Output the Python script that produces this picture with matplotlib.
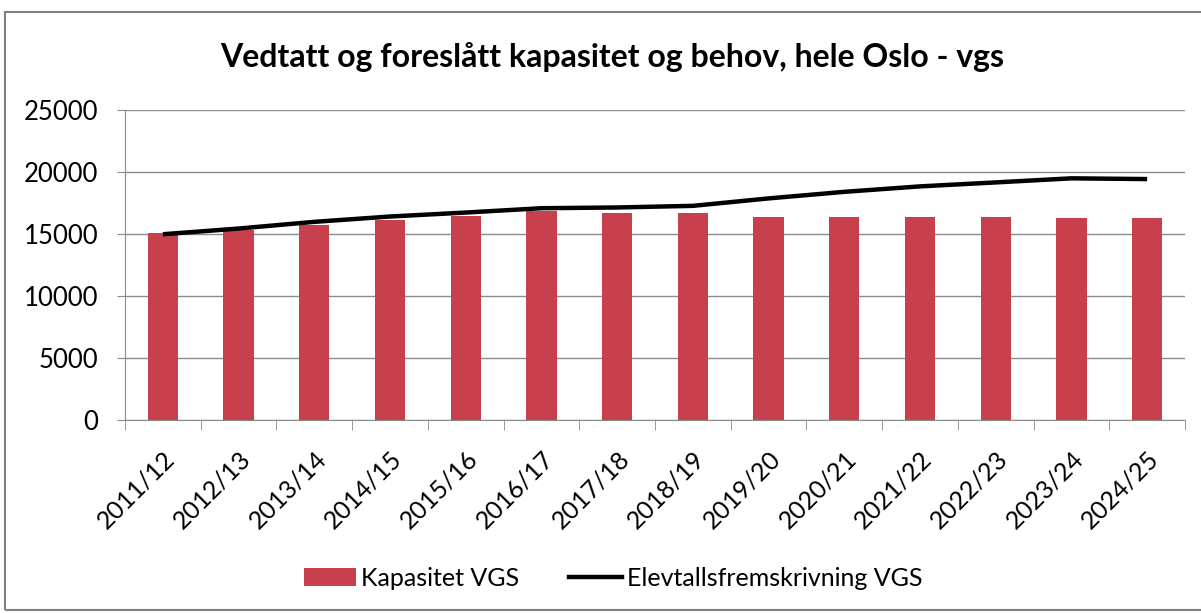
import matplotlib.pyplot as plt
from matplotlib.patches import Patch, Rectangle
from matplotlib.lines import Line2D
import numpy as np

plt.rcParams['font.family'] = ['Lato', 'DejaVu Sans']

# Data
years = ['2011/12', '2012/13', '2013/14', '2014/15', '2015/16', '2016/17', '2017/18',
         '2018/19', '2019/20', '2020/21', '2021/22', '2022/23', '2023/24', '2024/25']
kapasitet = [15060, 15300, 15730, 16140, 16460, 16870, 16730,
             16730, 16410, 16410, 16410, 16410, 16300, 16300]
elevtall = [14980, 15440, 15980, 16410, 16730, 17080, 17140,
            17270, 17870, 18400, 18840, 19160, 19490, 19430]

bar_color = '#C8404B'

fig = plt.figure(figsize=(12.01, 6.13), dpi=100)
ax = fig.add_axes([125 / 1201, 1 - 420 / 613, 1060 / 1201, 310 / 613])

x = np.arange(len(years))
ax.bar(x, kapasitet, width=0.4, color=bar_color, zorder=2)
ax.plot(x, elevtall, color='black', linewidth=3.2, zorder=3, solid_capstyle='butt')

ax.set_xlim(-0.5, len(years) - 0.5)
ax.set_ylim(0, 25000)
ax.set_yticks(range(0, 25001, 5000))
ax.yaxis.grid(True, color='#8c8c8c', linewidth=1.0, zorder=0)
ax.set_axisbelow(True)

ax.set_xticks(x)
ax.set_xticklabels(years, rotation=45, ha='right', rotation_mode='anchor', fontsize=18)
ax.set_xticks(np.arange(-0.5, len(years)), minor=True)
ax.tick_params(axis='x', which='major', length=0, pad=19)
ax.tick_params(axis='x', which='minor', length=7, color='#8c8c8c', direction='out')
ax.tick_params(axis='y', length=6, color='#8c8c8c', labelsize=18.5, pad=13)

for side in ['top', 'right']:
    ax.spines[side].set_visible(False)
for side in ['left', 'bottom']:
    ax.spines[side].set_color('#8c8c8c')

fig.text(612 / 1201, 1 - 57 / 613, 'Vedtatt og foreslått kapasitet og behov, hele Oslo - vgs',
         ha='center', va='center', fontsize=23, fontweight='bold')

handles = [Patch(facecolor=bar_color, label='Kapasitet VGS'),
           Line2D([0], [0], color='black', linewidth=3.2, label='Elevtallsfremskrivning VGS')]
fig.legend(handles=handles, loc='center', bbox_to_anchor=(613 / 1201, 1 - 578 / 613), ncol=2,
           frameon=False, fontsize=18, handlelength=2.1, handleheight=0.7,
           handletextpad=0.2, columnspacing=2.0)

fig.patches.append(Rectangle((5 / 1201, 3 / 613), 1205 / 1201, 598 / 613,
                             transform=fig.transFigure, fill=False,
                             edgecolor='#808080', linewidth=1.5))

fig.savefig('out.png', dpi=100)
